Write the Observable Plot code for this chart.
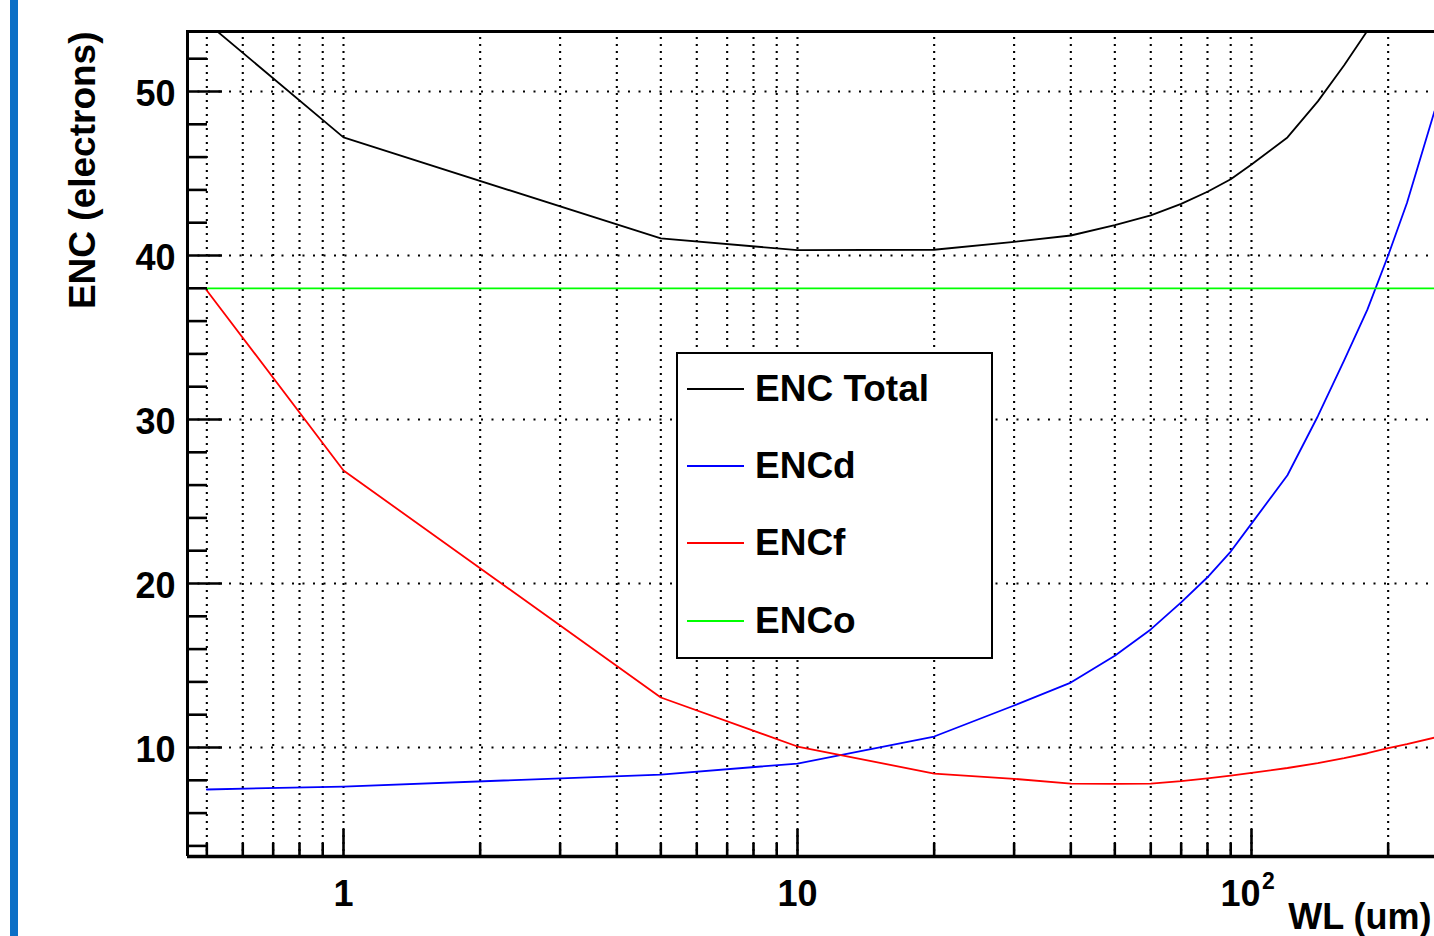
<!DOCTYPE html>
<html>
<head>
<meta charset="utf-8">
<script src="https://cdn.jsdelivr.net/npm/d3@7"></script>
<script src="https://cdn.jsdelivr.net/npm/@observablehq/plot@0.6"></script>
<style>
  html, body { margin: 0; padding: 0; background: #fff; overflow: hidden; width: 1434px; height: 936px; }
  #wrap { position: relative; width: 1434px; height: 936px; overflow: hidden; }
  #wrap svg { position: absolute; left: 0; top: 0; }
  #strip { position: absolute; left: 10px; top: 0; width: 8px; height: 936px; background: #0b6fc6; }
  #legend { position: absolute; left: 676px; top: 352px; width: 313px; height: 303px;
            border: 2.5px solid #000; background: #fff;
            font-family: "Liberation Sans", Arial, Helvetica, sans-serif; font-weight: bold; font-size: 37px; color: #000; }
  .row { position: absolute; left: 0; height: 0; width: 100%; }
  .row .sw { position: absolute; left: 9px; width: 57px; top: -1px; height: 2px; }
  .row .lb { position: absolute; left: 77px; top: -21px; line-height: 42px; white-space: nowrap; }
</style>
</head>
<body>
<div id="wrap">
  <div id="strip"></div>
</div>
<script>
// ---- data ----
const wl       = [0.5, 1, 5, 10, 20, 30, 40, 50, 60, 70, 80, 90, 100, 120, 140, 160, 180, 200, 220, 253];
const encTotal = [54.2, 47.2, 41.04, 40.33, 40.35, 40.83, 41.22, 41.85, 42.45, 43.15, 43.89, 44.65, 45.55, 47.2, 49.4, 51.6, 53.7, 56.06, 58.4, 62.7];
const encD     = [7.44, 7.62, 8.35, 9.02, 10.67, 12.56, 13.96, 15.6, 17.2, 18.85, 20.38, 21.95, 23.65, 26.6, 30.2, 33.6, 36.7, 40.0, 43.2, 48.8];
const encF     = [37.87, 26.89, 13.05, 10.06, 8.41, 8.09, 7.8, 7.78, 7.8, 7.95, 8.12, 8.28, 8.45, 8.75, 9.05, 9.35, 9.65, 9.96, 10.2, 10.6];
const encO     = [38, 38, 38, 38, 38, 38, 38, 38, 38, 38, 38, 38, 38, 38, 38, 38, 38, 38, 38, 38];

const seriesNames  = ["ENC Total", "ENCd", "ENCf", "ENCo"];
const seriesColors = ["#000000", "#0000ff", "#ff0000", "#00ff00"];

const xMajor       = [1, 10, 100];
const xMajorLabels = ["1", "10", "10"];
const xSuperscript = ["", "", "2"];
const xMinor       = [0.5, 0.6, 0.7, 0.8, 0.9, 2, 3, 4, 5, 6, 7, 8, 9, 20, 30, 40, 50, 60, 70, 80, 90, 200];
const yMajor       = [10, 20, 30, 40, 50];
const yMinor       = [4, 6, 8, 12, 14, 16, 18, 22, 24, 26, 28, 32, 34, 36, 38, 42, 44, 46, 48, 52];
const xDomain      = [0.4533, 253];
const yDomain      = [3.354, 53.72];
const xTitle = "WL (um)";
const yTitle = "ENC (electrons)";

// ---- build table ----
const seriesValues = [encTotal, encD, encF, encO];
const rows = seriesNames.flatMap((name, k) => wl.map((w, i) => ({name, wl: w, enc: seriesValues[k][i]})));

const W = 1434, H = 936, ML = 187, MR = 0, MT = 30, MB = 80;
const frameW = W - ML - MR, frameH = H - MT - MB;
const font = "Liberation Sans, Arial, Helvetica, sans-serif";

const chart = Plot.plot({
  width: W, height: H,
  marginLeft: ML, marginRight: MR, marginTop: MT, marginBottom: MB,
  style: {background: "transparent", overflow: "hidden", maxWidth: "none"},
  x: {type: "log", domain: xDomain, axis: null},
  y: {domain: yDomain, axis: null},
  color: {domain: seriesNames, range: seriesColors},
  marks: [
    // dotted grid
    Plot.ruleX([...xMinor, ...xMajor], {x: d => d, stroke: "#000", strokeWidth: 2.1, strokeDasharray: "2,5"}),
    Plot.ruleY(yMajor, {y: d => d, stroke: "#000", strokeWidth: 2.1, strokeDasharray: "2,8.5"}),
    // curves
    Plot.line(rows, {x: "wl", y: "enc", z: "name", stroke: "name", strokeWidth: 1.8, clip: true}),
    // ticks
    Plot.tickY(yMajor, {y: d => d, insetRight: frameW - 35, stroke: "#000", strokeWidth: 2.6}),
    Plot.tickY(yMinor, {y: d => d, insetRight: frameW - 20, stroke: "#000", strokeWidth: 2.6}),
    Plot.tickX(xMajor, {x: d => d, insetTop: frameH - 27, stroke: "#000", strokeWidth: 2.6}),
    Plot.tickX(xMinor, {x: d => d, insetTop: frameH - 13, stroke: "#000", strokeWidth: 2.6}),
    // axis lines / frame top
    Plot.ruleX([xDomain[0]], {x: d => d, stroke: "#000", strokeWidth: 3}),
    Plot.ruleY([yDomain[0]], {y: d => d, stroke: "#000", strokeWidth: 3.6}),
    Plot.ruleY([yDomain[1]], {y: d => d, stroke: "#000", strokeWidth: 3, dy: 1}),
    // tick labels
    Plot.text(yMajor, {y: d => d, text: d => String(d), frameAnchor: "left", textAnchor: "end", lineAnchor: "middle",
      dx: -12, dy: 2.5, fontSize: 36, fontWeight: "bold", fontFamily: font, fill: "#000"}),
    Plot.text(xMajor.slice(0, 2), {x: d => d, text: xMajorLabels.slice(0, 2), frameAnchor: "bottom", lineAnchor: "middle",
      dy: 38, fontSize: 36, fontWeight: "bold", fontFamily: font, fill: "#000"}),
    Plot.text(xMajor.slice(2), {x: d => d, text: xMajorLabels.slice(2), frameAnchor: "bottom", lineAnchor: "middle",
      dx: -11, dy: 38, fontSize: 36, fontWeight: "bold", fontFamily: font, fill: "#000"}),
    Plot.text(xMajor.slice(2), {x: d => d, text: xSuperscript.slice(2), frameAnchor: "bottom", lineAnchor: "middle",
      dx: 17, dy: 25, fontSize: 23, fontWeight: "bold", fontFamily: font, fill: "#000"}),
    // axis titles
    Plot.text([xTitle], {text: d => d, frameAnchor: "bottom-right", textAnchor: "end", lineAnchor: "bottom",
      dx: -3, dy: 72, fontSize: 36, fontWeight: "bold", fontFamily: font, fill: "#000"}),
    Plot.text([yTitle], {text: d => d, frameAnchor: "top-left", rotate: -90, textAnchor: "end", lineAnchor: "middle",
      dx: -104, dy: 1, fontSize: 37, fontWeight: "bold", fontFamily: font, fill: "#000"})
  ]
});

const wrap = document.getElementById("wrap");
wrap.insertBefore(chart, wrap.firstChild);

// ---- legend (HTML overlay) ----
const legend = document.createElement("div");
legend.id = "legend";
seriesNames.forEach((name, i) => {
  const row = document.createElement("div");
  row.className = "row";
  row.style.top = (34.5 + i * 77.4) + "px";
  const sw = document.createElement("div");
  sw.className = "sw";
  sw.style.background = seriesColors[i];
  const lb = document.createElement("div");
  lb.className = "lb";
  lb.textContent = name;
  row.appendChild(sw);
  row.appendChild(lb);
  legend.appendChild(row);
});
wrap.appendChild(legend);
</script>
</body>
</html>
